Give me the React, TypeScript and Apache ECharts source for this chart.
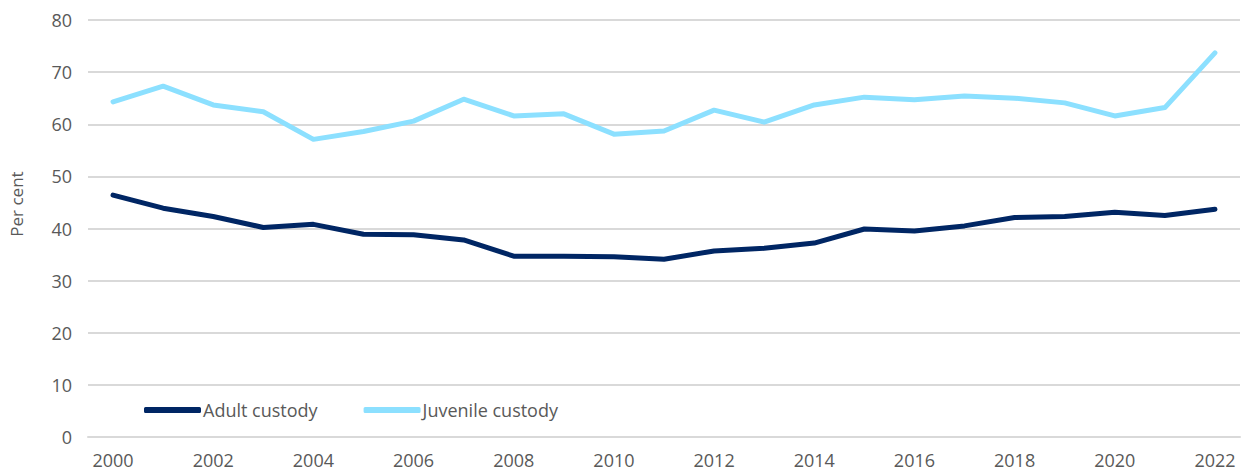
import React, { useEffect, useRef } from "react";
import * as echarts from "echarts";

const years = [
  "2000", "2001", "2002", "2003", "2004", "2005", "2006", "2007", "2008", "2009", "2010", "2011",
  "2012", "2013", "2014", "2015", "2016", "2017", "2018", "2019", "2020", "2021", "2022",
];
const adultCustody = [
  46.4, 43.9, 42.3, 40.2, 40.8, 38.9, 38.8, 37.8, 34.7, 34.7, 34.6, 34.1,
  35.7, 36.2, 37.2, 39.9, 39.5, 40.5, 42.1, 42.3, 43.1, 42.5, 43.7,
];
const juvenileCustody = [
  64.3, 67.3, 63.7, 62.4, 57.1, 58.6, 60.6, 64.8, 61.6, 62.0, 58.1, 58.7,
  62.7, 60.4, 63.7, 65.2, 64.7, 65.4, 65.0, 64.1, 61.6, 63.2, 73.7,
];
const yMin = 0;
const yMax = 80;
const yStep = 10;
const yAxisTitle = "Per cent";

const FONT = "'Open Sans', Roboto, sans-serif";
const TEXT = "#595959";

if (typeof document !== "undefined") {
  document.body.style.margin = "0";
}

export default function App() {
  const ref = useRef<HTMLDivElement>(null);
  useEffect(() => {
    if (!ref.current) return;
    const chart = echarts.init(ref.current, undefined, { renderer: "svg" });
    chart.setOption({
      animation: false,
      textStyle: { fontFamily: FONT },
      grid: { left: 88, right: 5, top: 20, bottom: 34, containLabel: false },
      graphic: [
        {
          type: "text",
          x: 16,
          y: 204,
          rotation: Math.PI / 2,
          style: {
            text: yAxisTitle,
            fill: TEXT,
            font: `17px ${FONT}`,
            textAlign: "center",
            textVerticalAlign: "middle",
          },
        },
      ],
      legend: {
        left: 139,
        top: 396,
        icon: "roundRect",
        itemWidth: 57,
        itemHeight: 6,
        itemGap: 46,
        textStyle: { color: TEXT, fontSize: 18, fontFamily: FONT, padding: [0, 0, 0, -3] },
        data: ["Adult custody", "Juvenile custody"],
      },
      xAxis: {
        type: "category",
        data: years,
        boundaryGap: true,
        axisLine: { show: true, lineStyle: { color: "#d9d9d9", width: 2 } },
        axisTick: { show: false },
        axisLabel: { interval: 1, color: TEXT, fontSize: 18, margin: 14 },
      },
      yAxis: {
        type: "value",
        min: yMin,
        max: yMax,
        interval: yStep,
        axisLine: { show: false },
        axisTick: { show: false },
        axisLabel: { color: TEXT, fontSize: 18, margin: 16 },
        splitLine: { lineStyle: { color: "#d9d9d9", width: 2 } },
      },
      series: [
        {
          name: "Adult custody",
          type: "line",
          data: adultCustody,
          showSymbol: false,
          symbol: "none",
          lineStyle: { color: "#002664", width: 5, cap: "round", join: "round" },
          itemStyle: { color: "#002664" },
        },
        {
          name: "Juvenile custody",
          type: "line",
          data: juvenileCustody,
          showSymbol: false,
          symbol: "none",
          lineStyle: { color: "#8CE0FF", width: 5, cap: "round", join: "round" },
          itemStyle: { color: "#8CE0FF" },
        },
      ],
    });
    return () => chart.dispose();
  }, []);
  return <div ref={ref} style={{ width: 1245, height: 471 }} />;
}
